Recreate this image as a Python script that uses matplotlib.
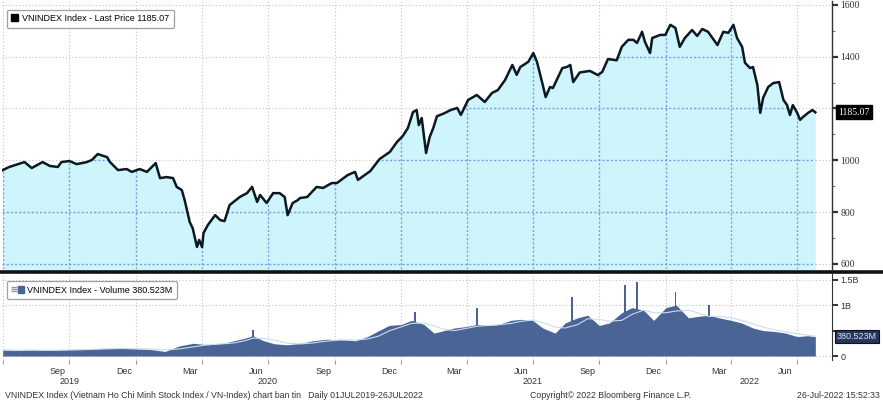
import matplotlib
matplotlib.use("Agg")
import matplotlib.pyplot as plt
import matplotlib.transforms as mtransforms
from matplotlib.patches import Patch
from matplotlib.lines import Line2D
from matplotlib.legend_handler import HandlerTuple
import pandas as pd

# price readings (VNINDEX last price)
price_dates = [
    "2019-07-01", "2019-07-10", "2019-07-31", "2019-08-10", "2019-08-25", "2019-09-04",
    "2019-09-15", "2019-09-20", "2019-10-01", "2019-10-11", "2019-10-25", "2019-11-01",
    "2019-11-09", "2019-11-22", "2019-11-26", "2019-12-07", "2019-12-19", "2019-12-26",
    "2020-01-06", "2020-01-16", "2020-01-28", "2020-02-03", "2020-02-12", "2020-02-21",
    "2020-02-26", "2020-03-04", "2020-03-08", "2020-03-15", "2020-03-19", "2020-03-25",
    "2020-03-28", "2020-04-01", "2020-04-03", "2020-04-09", "2020-04-19", "2020-04-26",
    "2020-05-02", "2020-05-09", "2020-05-23", "2020-06-02", "2020-06-09", "2020-06-16",
    "2020-06-20", "2020-06-29", "2020-07-08", "2020-07-17", "2020-07-24", "2020-07-28",
    "2020-08-04", "2020-08-11", "2020-08-14", "2020-08-24", "2020-09-06", "2020-09-15",
    "2020-09-27", "2020-10-04", "2020-10-19", "2020-10-29", "2020-11-02", "2020-11-19",
    "2020-12-02", "2020-12-16", "2020-12-26", "2021-01-03", "2021-01-10", "2021-01-17",
    "2021-01-22", "2021-01-25", "2021-01-29", "2021-02-04", "2021-02-09", "2021-02-14",
    "2021-02-19", "2021-02-28", "2021-03-10", "2021-03-19", "2021-03-24", "2021-04-03",
    "2021-04-15", "2021-04-26", "2021-05-06", "2021-05-14", "2021-05-24", "2021-06-03",
    "2021-06-09", "2021-06-14", "2021-06-25", "2021-07-02", "2021-07-07", "2021-07-14",
    "2021-07-19", "2021-07-25", "2021-07-29", "2021-08-11", "2021-08-17", "2021-08-22",
    "2021-08-26", "2021-09-04", "2021-09-18", "2021-09-29", "2021-10-05", "2021-10-13",
    "2021-10-25", "2021-11-01", "2021-11-10", "2021-11-17", "2021-11-22", "2021-11-29",
    "2021-12-03", "2021-12-10", "2021-12-13", "2021-12-24", "2021-12-31", "2022-01-07",
    "2022-01-14", "2022-01-20", "2022-01-27", "2022-02-06", "2022-02-13", "2022-02-20",
    "2022-02-28", "2022-03-13", "2022-03-21", "2022-03-28", "2022-04-04", "2022-04-09",
    "2022-04-16", "2022-04-20", "2022-04-27", "2022-05-01", "2022-05-07", "2022-05-11",
    "2022-05-15", "2022-05-22", "2022-05-29", "2022-06-06", "2022-06-12", "2022-06-17",
    "2022-06-21", "2022-06-25", "2022-07-01", "2022-07-05", "2022-07-09", "2022-07-16",
    "2022-07-22", "2022-07-26",
]
price_values = [
    962, 974, 993, 970, 993, 978,
    974, 993, 997, 985, 993, 1001,
    1024, 1012, 993, 962, 966, 955,
    966, 955, 989, 931, 935, 931,
    897, 885, 846, 761, 738, 665,
    692, 665, 719, 750, 788, 769,
    765, 827, 858, 873, 897, 839,
    866, 835, 873, 873, 858, 788,
    835, 846, 854, 858, 897, 893,
    912, 912, 943, 955, 924, 958,
    1005, 1032, 1071, 1094, 1125, 1186,
    1194, 1136, 1163, 1028, 1090, 1125,
    1170, 1180, 1194, 1202, 1175, 1233,
    1252, 1225, 1260, 1271, 1310, 1368,
    1330, 1360, 1380, 1414, 1380, 1302,
    1244, 1283, 1279, 1356, 1360, 1368,
    1302, 1339, 1345, 1329, 1341, 1391,
    1386, 1438, 1465, 1465, 1453, 1496,
    1457, 1414, 1472, 1484, 1484, 1523,
    1511, 1438, 1472, 1503, 1480, 1507,
    1496, 1445, 1496, 1492, 1523, 1472,
    1438, 1376, 1356, 1360, 1291, 1183,
    1241, 1283, 1298, 1302, 1233, 1213,
    1175, 1213, 1183, 1156, 1167, 1183,
    1194, 1185.07,
]

# volume readings (billions of shares), base level
vol_dates = [
    "2019-07-01", "2019-07-20", "2019-08-10", "2019-09-01", "2019-09-20", "2019-10-10",
    "2019-11-01", "2019-11-20", "2019-12-10", "2019-12-30", "2020-01-20", "2020-02-10",
    "2020-03-01", "2020-03-20", "2020-04-10", "2020-04-30", "2020-05-15", "2020-05-30",
    "2020-06-10", "2020-06-25", "2020-07-10", "2020-07-28", "2020-08-15", "2020-09-01",
    "2020-09-20", "2020-10-10", "2020-10-30", "2020-11-15", "2020-12-01", "2020-12-15",
    "2021-01-01", "2021-01-15", "2021-02-01", "2021-02-15", "2021-03-01", "2021-03-15",
    "2021-04-01", "2021-04-15", "2021-05-01", "2021-05-15", "2021-06-01", "2021-06-15",
    "2021-07-01", "2021-07-15", "2021-08-01", "2021-08-15", "2021-09-01", "2021-09-15",
    "2021-10-01", "2021-10-15", "2021-11-01", "2021-11-15", "2021-12-01", "2021-12-15",
    "2022-01-01", "2022-01-15", "2022-02-01", "2022-02-15", "2022-03-01", "2022-03-15",
    "2022-04-01", "2022-04-15", "2022-05-01", "2022-05-15", "2022-06-01", "2022-06-15",
    "2022-07-01", "2022-07-15", "2022-07-26",
]
vol_values = [
    0.12, 0.11, 0.12, 0.11, 0.12, 0.13,
    0.14, 0.15, 0.15, 0.14, 0.13, 0.09,
    0.20, 0.25, 0.22, 0.25, 0.30, 0.35,
    0.40, 0.30, 0.24, 0.22, 0.25, 0.30,
    0.33, 0.32, 0.30, 0.38, 0.50, 0.60,
    0.62, 0.70, 0.62, 0.45, 0.50, 0.55,
    0.58, 0.62, 0.60, 0.62, 0.70, 0.72,
    0.70, 0.55, 0.45, 0.65, 0.75, 0.80,
    0.60, 0.65, 0.85, 0.95, 0.90, 0.70,
    0.95, 1.00, 0.75, 0.78, 0.80, 0.75,
    0.70, 0.65, 0.55, 0.50, 0.48, 0.45,
    0.38, 0.40, 0.38,
]
# single-day volume spikes
spike_dates = ["2020-06-10", "2021-01-20", "2021-04-15", "2021-08-24",
               "2021-11-05", "2021-11-22", "2022-01-14", "2022-03-01"]
spike_values = [0.52, 0.86, 0.94, 1.15, 1.39, 1.45, 1.25, 1.0]

month_labels = ["Sep", "Dec", "Mar", "Jun", "Sep", "Dec", "Mar", "Jun", "Sep", "Dec", "Mar", "Jun"]
year_labels = ["2019", "2020", "2021", "2022"]
year_label_dates = ["2019-10-01", "2020-07-01", "2021-07-01", "2022-04-26"]
price_ticks = [600, 800, 1000, 1200, 1400, 1600]
price_tick_labels = ["600", "800", "1000", "", "1400", "1600"]
vol_ticks = [0, 0.5, 1.0, 1.5]
vol_tick_labels = ["0", "", "1B", "1.5B"]

pd_price = pd.Series(price_values, index=pd.to_datetime(price_dates))
pd_vol = pd.Series(vol_values, index=pd.to_datetime(vol_dates))
vol_ma = pd_vol.rolling(3, min_periods=1).mean()

FILL = "#cdf5fb"
LINE = "#0c1822"
BAR = "#4b6496"
GRID_GRAY = "#c4c4c4"
GRID_BLUE = "#7b9be6"

W, H = 883, 404
fig = plt.figure(figsize=(W / 100, H / 100), dpi=100)
fig.patch.set_facecolor("white")

def fx(px):
    return px / W

def fy(py):
    return 1 - py / H

ax = fig.add_axes([fx(2), fy(269), fx(832) - fx(2), fy(1) - fy(269)])
axv = fig.add_axes([fx(2), fy(360), fx(832) - fx(2), fy(274) - fy(360)], sharex=ax)

xmin = pd.Timestamp("2019-06-30")
xmax = pd.Timestamp("2022-08-18")
quarters = pd.date_range("2019-07-01", "2022-07-01", freq="QS")
mids = pd.date_range("2019-09-01", "2022-06-01", freq="3MS") + pd.Timedelta(days=14)

# ---- price panel
fill = ax.fill_between(pd_price.index, pd_price.values, 560, color=FILL, lw=0, zorder=1)
clip_path = fill.get_paths()[0]
for q in quarters:
    ax.axvline(q, color=GRID_GRAY, lw=0.8, ls=(0, (1, 2)), zorder=0.5)
    gl = ax.axvline(q, color=GRID_BLUE, lw=1.0, ls=(0, (1.5, 1.5)), zorder=2)
    gl.set_clip_path(clip_path, ax.transData)
for t in price_ticks:
    ax.axhline(t, color=GRID_GRAY, lw=0.8, ls=(0, (1, 2)), zorder=0.5)
    gl = ax.axhline(t, color=GRID_BLUE, lw=1.0, ls=(0, (1.5, 1.5)), zorder=2)
    gl.set_clip_path(clip_path, ax.transData)
ax.plot(pd_price.index, pd_price.values, color=LINE, lw=1.8, zorder=3)

ax.set_xlim(xmin, xmax)
ax.set_ylim(580, 1615)
for s in ["left", "top", "bottom"]:
    ax.spines[s].set_visible(False)
ax.spines["right"].set_color("#333333")
ax.spines["right"].set_linewidth(1.0)
ax.yaxis.tick_right()
ax.set_yticks(price_ticks)
ax.set_yticklabels(price_tick_labels, fontfamily="Liberation Serif", fontsize=7, color="#333333")
ax.set_yticks(range(700, 1600, 200), minor=True)
ax.tick_params(axis="y", which="major", length=4, width=1.6, color="#333333", pad=2)
ax.tick_params(axis="y", which="minor", length=2, width=0.8, color="#777777")
ax.tick_params(axis="x", which="both", length=0, labelbottom=False)

ax.text(1.008, pd_price.values[-1], "%.2f" % pd_price.values[-1], transform=ax.get_yaxis_transform(),
        fontsize=7, fontfamily="Liberation Serif", color="white", va="center", ha="left",
        bbox=dict(boxstyle="square,pad=0.25", fc="black", ec="black"))

leg = ax.legend(handles=[Patch(facecolor="black", edgecolor="black")],
                labels=["VNINDEX Index - Last Price 1185.07"], loc="upper left",
                bbox_to_anchor=(0.0, 0.985), frameon=True, fancybox=True,
                handlelength=0.8, handleheight=0.8, handletextpad=0.4, borderpad=0.5,
                prop={"family": "Liberation Sans", "size": 6.5})
leg.get_frame().set_edgecolor("#888888")
leg.get_frame().set_linewidth(0.9)

# ---- volume panel
for q in quarters:
    axv.axvline(q, color=GRID_GRAY, lw=0.8, ls=(0, (1, 2)), zorder=0.5)
for t in [0, 1.0, 1.5]:
    axv.axhline(t, color=GRID_GRAY, lw=0.8, ls=(0, (1, 2)), zorder=0.5)
axv.fill_between(pd_vol.index, pd_vol.values, 0, color=BAR, lw=0, zorder=1)
axv.bar(pd.to_datetime(spike_dates), spike_values, width=2.5, color=BAR, lw=0, zorder=1)
axv.plot(vol_ma.index, vol_ma.values, color="#c9dcf2", lw=0.8, zorder=2)

axv.set_xlim(xmin, xmax)
axv.set_ylim(-0.078, 1.61)
for s in ["left", "top", "bottom"]:
    axv.spines[s].set_visible(False)
axv.spines["right"].set_color("#333333")
axv.yaxis.tick_right()
axv.set_yticks(vol_ticks)
axv.set_yticklabels(vol_tick_labels, fontfamily="Liberation Sans", fontsize=6.5, color="#333333")
axv.tick_params(axis="y", length=4, width=1.4, color="#333333", pad=2)

axv.set_xticks(quarters)
axv.set_xticklabels([""] * len(quarters))
axv.set_xticks(mids, minor=True)
axv.set_xticklabels(month_labels, minor=True, fontfamily="Liberation Sans", fontsize=6.5, color="#333333")
axv.tick_params(axis="x", which="major", length=3, width=0.8, color="#999999", direction="out")
axv.tick_params(axis="x", which="minor", length=0, pad=5)

trans = mtransforms.blended_transform_factory(axv.transData, fig.transFigure)
for d, lab in zip(year_label_dates, year_labels):
    axv.text(pd.Timestamp(d), fy(382), lab, transform=trans, ha="center", va="center",
             fontsize=6.5, fontfamily="Liberation Sans", color="#333333")

axv.text(1.006, vol_values[-1], "380.523M", transform=axv.get_yaxis_transform(),
         fontsize=6.5, fontfamily="Liberation Sans", color="#dde6f5", va="center", ha="left",
         bbox=dict(boxstyle="square,pad=0.2", fc="#24365c", ec="#111111", lw=0.8))

vleg = axv.legend(handles=[(Line2D([], [], marker="$\\equiv$", color="#999999", ls="", markersize=5),
                            Patch(facecolor=BAR, edgecolor=BAR))],
                  labels=["VNINDEX Index - Volume 380.523M"], loc="upper left",
                  bbox_to_anchor=(0.0, 0.97), frameon=True, fancybox=True,
                  handler_map={tuple: HandlerTuple(ndivide=None, pad=0.1)},
                  handlelength=1.4, handleheight=0.8, handletextpad=0.4, borderpad=0.5,
                  prop={"family": "Liberation Sans", "size": 6.5})
vleg.get_frame().set_edgecolor("#888888")
vleg.get_frame().set_linewidth(0.9)

# separator between panels
fig.add_artist(Line2D([0, 1], [fy(271.5), fy(271.5)], transform=fig.transFigure,
                      color="#111111", lw=2.6))

# footer
foot = dict(fontsize=6.3, fontfamily="Liberation Sans", color="#333333", va="center")
fig.text(fx(5), fy(395), "VNINDEX Index (Vietnam Ho Chi Minh Stock Index / VN-Index) chart ban tin   "
         "Daily 01JUL2019-26JUL2022", ha="left", **foot)
fig.text(fx(530), fy(395), "Copyright\u00a9 2022 Bloomberg Finance L.P.", ha="left", **foot)
fig.text(fx(880), fy(395), "26-Jul-2022 15:52:33", ha="right", **foot)

fig.savefig("out.png", dpi=100)
